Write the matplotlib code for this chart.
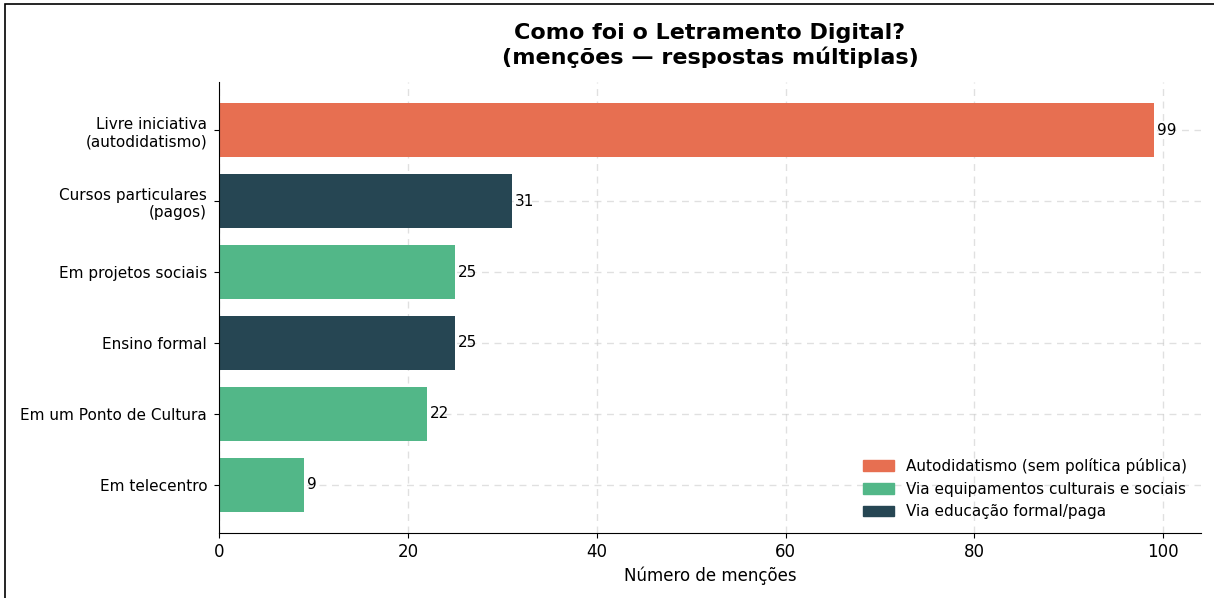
import matplotlib.pyplot as plt
from matplotlib.patches import Patch, Rectangle

categorias = [
    "Livre iniciativa\n(autodidatismo)",
    "Cursos particulares\n(pagos)",
    "Em projetos sociais",
    "Ensino formal",
    "Em um Ponto de Cultura",
    "Em telecentro",
]
mencoes = [99, 31, 25, 25, 22, 9]
grupos = ["auto", "formal", "social", "formal", "social", "social"]

cores = {"auto": "#E76F51", "social": "#52B788", "formal": "#264653"}
rotulos = {
    "auto": "Autodidatismo (sem política pública)",
    "social": "Via equipamentos culturais e sociais",
    "formal": "Via educação formal/paga",
}

fig = plt.figure(figsize=(12.14, 5.98), dpi=100)
ax = fig.add_axes([0.1804, 0.1087, 0.8089, 0.7542])

pos = list(range(len(categorias)))[::-1]
ax.barh(pos, mencoes, height=0.76, color=[cores[g] for g in grupos], zorder=2)

for y, v in zip(pos, mencoes):
    ax.text(v + 0.35, y, str(v), va="center", ha="left", fontsize=11)

ax.set_yticks(pos)
ax.set_yticklabels(categorias, fontsize=11)
ax.tick_params(axis="y", pad=5)
ax.tick_params(axis="x", labelsize=12)
ax.set_xlim(0, 104)
ax.set_ylim(-0.68, 5.68)
ax.set_xlabel("Número de menções", fontsize=12)
ax.set_title("Como foi o Letramento Digital?\n(menções — respostas múltiplas)",
             fontsize=16, fontweight="bold", pad=13)

ax.grid(True, linestyle=(0, (5, 4)), color="#cccccc", linewidth=1, alpha=0.6, zorder=0)
ax.set_axisbelow(True)
ax.spines["top"].set_visible(False)
ax.spines["right"].set_visible(False)

handles = [Patch(color=cores[k], label=rotulos[k]) for k in ["auto", "social", "formal"]]
ax.legend(handles=handles, loc="lower right", frameon=False, fontsize=11)

# moldura da figura
fig.patches.append(Rectangle((0.004, -0.1), 1.2, 1.093, transform=fig.transFigure,
                             fill=False, edgecolor="black", linewidth=1.2))

fig.savefig("out.png", dpi=100)
